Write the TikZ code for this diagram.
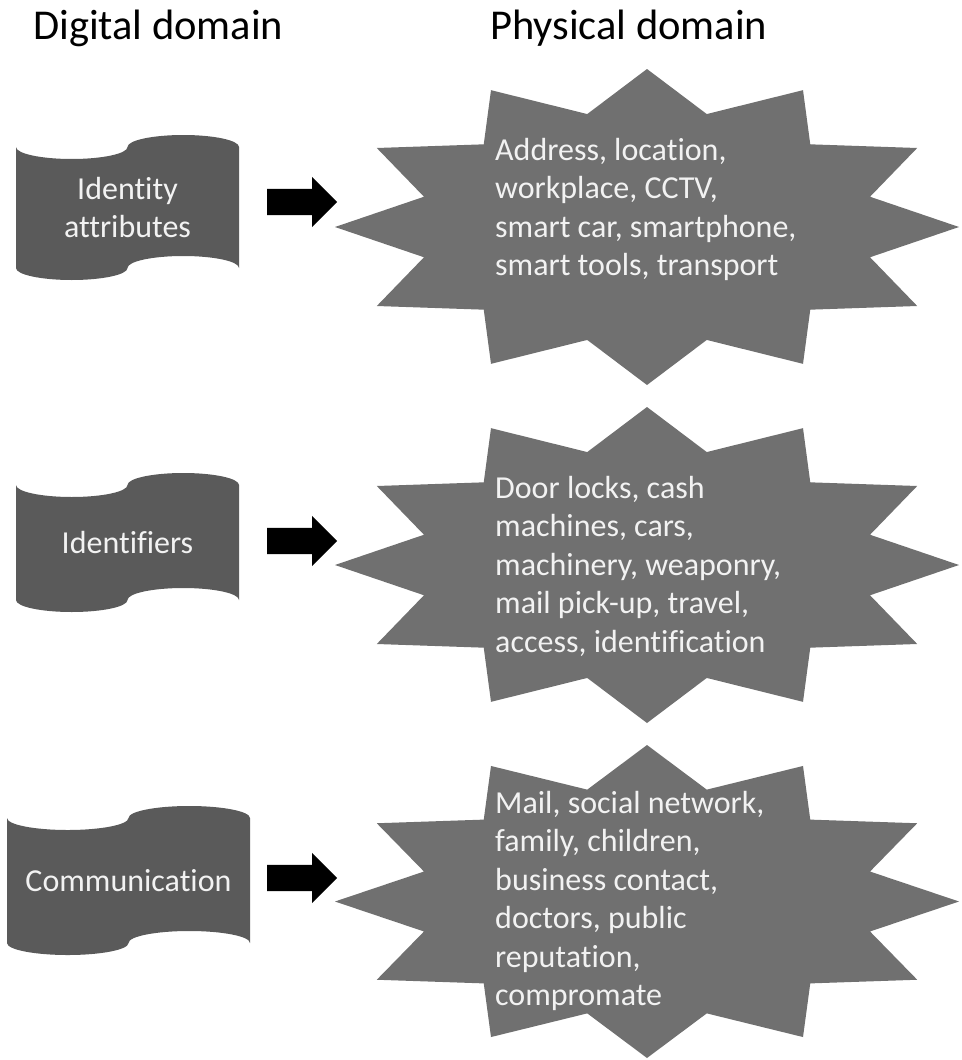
\documentclass[tikz,border=0pt]{standalone}
\usepackage{fontspec}
\setmainfont{Carlito}[Ligatures=NoCommon]
\usetikzlibrary{shapes.arrows}

\definecolor{tapegray}{HTML}{5A5A5A}
\definecolor{stargray}{HTML}{707070}
\definecolor{labelwhite}{HTML}{F2F2F2}

% punched-tape outline: left x, right x, top corner y, bottom corner y, wave height
\newcommand{\drawtape}[5]{%
  \pgfmathsetmacro{\tq}{(#2-#1)/4}%
  \fill[tapefill] (#1,#3)
    arc[start angle=180, end angle=0,   x radius=\tq, y radius=#5]
    arc[start angle=180, end angle=360, x radius=\tq, y radius=#5]
    -- (#2,#4)
    arc[start angle=0, end angle=-180,  x radius=\tq, y radius=#5]
    arc[start angle=0, end angle=180,   x radius=\tq, y radius=#5]
    -- cycle;}

% twelve-point seal: centre x, centre y, half width, half height
\newcommand{\drawseal}[4]{%
  \fill[starfill] plot[samples at={0,15,...,345}]
    ({#1+#3*(1-0.26*mod(\x,30)/15)*cos(\x)},{#2+#4*(1-0.26*mod(\x,30)/15)*sin(\x)}) -- cycle;}

\begin{document}
\begin{tikzpicture}[x=1pt,y=-1pt,
  tapefill/.style={fill=tapegray},
  starfill/.style={fill=stargray},
  tapetext/.style={text=labelwhite, align=center, inner sep=0pt,
    font=\fontsize{32}{38.5}\selectfont},
  startext/.style={text=labelwhite, align=left, anchor=west, inner sep=0pt,
    font=\fontsize{32}{38.5}\selectfont},
  heading/.style={anchor=base west, inner sep=0pt,
    font=\fontsize{42.5}{50}\selectfont},
  blockarrow/.style={single arrow, fill=black, draw=none, anchor=tail,
    minimum height=70pt, minimum width=0pt,
    single arrow head extend=12pt, single arrow tip angle=90,
    single arrow head indent=0pt, inner xsep=0pt, inner ysep=13pt,
    text height=0pt, text depth=0pt}
]
\useasboundingbox (0,0) rectangle (961,1060);
\fill[white] (0,0) rectangle (961,1060);

% column headings
\node[heading] (hdigital) at (33,39) {Digital domain};
\node[heading] (hphysical) at (490,39) {Physical domain};

% row 1
\drawtape{16}{239}{147}{268}{12}
\node[tapetext] (attr) at (127.5,207.5) {Identity\\attributes};
\node[blockarrow] (arr1) at (267,202) {};
\drawseal{647}{227}{312}{158}
\node[startext] (phys1) at (495,209.5)
  {Address, location,\\workplace, CCTV,\\smart car, smartphone,\\smart tools, transport};

% row 2
\drawtape{16}{239}{485}{600}{12}
\node[tapetext] (ident) at (127.5,543) {Identifiers};
\node[blockarrow] (arr2) at (267,541) {};
\drawseal{647}{565}{312}{158}
\node[startext] (phys2) at (495,566)
  {Door locks, cash\\machines, cars,\\machinery, weaponry,\\mail pick-up, travel,\\access, identification};

% row 3
\drawtape{7}{250}{818}{943}{12}
\node[tapetext] (comm) at (128.5,881) {Communication};
\node[blockarrow] (arr3) at (267,878) {};
\drawseal{647}{901.5}{312}{156.5}
\node[startext] (phys3) at (495,901)
  {Mail, social network,\\family, children,\\business contact,\\doctors, public\\reputation,\\compromate};
\end{tikzpicture}
\end{document}
